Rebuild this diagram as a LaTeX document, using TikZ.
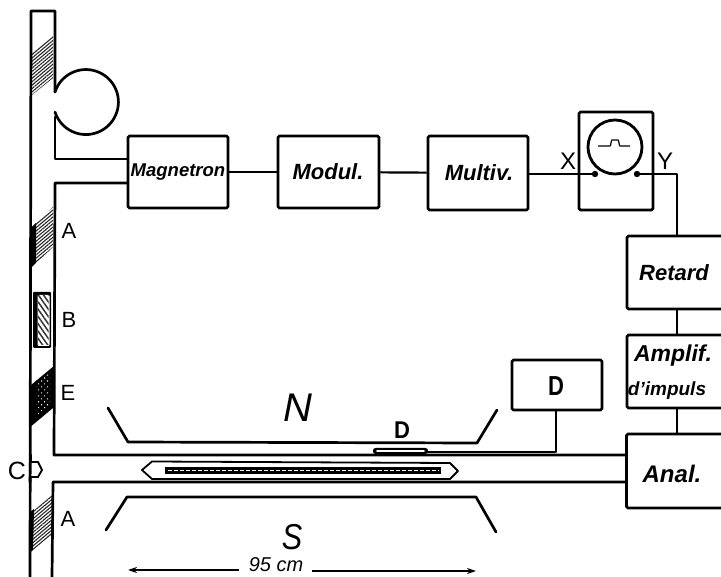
\documentclass[tikz,border=0pt]{standalone}
\usepackage{fontspec}
\setmainfont{Liberation Sans}
\usetikzlibrary{patterns.meta,arrows.meta}
\tikzset{
  blk/.style={draw=black,line width=2.6pt,rounded corners=1.5pt,inner sep=0pt,fill=white},
  wall/.style={draw=black,line width=2.7pt,line join=round,line cap=round},
  thin wire/.style={draw=black,line width=2.2pt},
  lettering/.style={font=\fontsize{#1}{#1}\selectfont\bfseries\itshape,inner sep=0pt},
  lightlettering/.style={font=\fontsize{#1}{#1}\selectfont\itshape,inner sep=0pt},
  plain/.style={font=\fontsize{#1}{#1}\selectfont,inner sep=0pt},
  hatch/.style={pattern={Lines[angle=40,distance=2.6pt,line width=1.1pt]},pattern color=black!85},
}
\begin{document}
\begin{tikzpicture}[x=1pt,y=-1pt]
\clip (0,0) rectangle (721,577);
\fill[white] (0,0) rectangle (721,577);
% boxes
\node[blk,minimum width=100pt,minimum height=72pt] (mag) at (178,172) {};
\node[blk,minimum width=101pt,minimum height=72pt] (mod) at (328.5,172) {};
\node[blk,minimum width=100pt,minimum height=74pt] (mul) at (478,173) {};
\node[blk,minimum width=74pt,minimum height=98pt] (osc) at (616,161) {};
\node[blk,minimum width=113pt,minimum height=73pt] (ret) at (683.5,272.5) {};
\node[blk,minimum width=113pt,minimum height=73pt] (amp) at (683.5,371.5) {};
\node[blk,minimum width=113pt,minimum height=74pt] (ana) at (683,471) {};
\node[blk,minimum width=90pt,minimum height=50pt] (det) at (557,385) {};
% box texts
\node[lettering=18.5] (tmag) at (178,172) {Magnetron};
\node[lettering=22] (tmod) at (328,172) {Modul.};
\node[lettering=22] (tmul) at (479,173) {Multiv.};
\node[lettering=22] (tret) at (674,273) {Retard};
\node[lettering=23] (tamp1) at (673,356) {Amplif.};
\node[lettering=19] (tamp2) at (667,391) {d'impuls};
\node[lettering=24] (tana) at (672,474) {Anal.};
\node[plain=22,font=\fontsize{22}{22}\selectfont\bfseries,yscale=1.25] (tdet) at (556,386) {D};
% oscilloscope
\node[draw=black,line width=2.8pt,circle,minimum size=54pt,inner sep=0pt] (scr) at (615,147) {};
\draw[line width=1.2pt] (598,146) -- (610,146) .. controls (611,146) and (611,140) .. (612,140) -- (618,140) .. controls (619,140) and (619,146) .. (620,146) -- (630,146);
\coordinate (dx) at (595,174);
\coordinate (dy) at (637,174);
\fill (dx) circle (3.2pt) (dy) circle (3.2pt);
% signal connectors
\coordinate (busx) at (677,0);
\coordinate (detx) at (556,0);
\draw[thin wire] (mag) -- (mod);
\draw[thin wire] (mod) -- (mul);
\draw[thin wire] (mul.east |- dx) -- (dx);
\draw[wall] (dy) -| (ret.north -| busx);
\draw[wall] (ret.south -| busx) -- (amp.north -| busx);
\draw[wall] (amp.south -| busx) -- (ana.north -| busx);
\coordinate (tube) at (427,452);
\draw[wall] (det.south -| detx) |- (tube);
\fill[rounded corners=2.5pt] (373,448) rectangle (428,454);
\fill[white,rounded corners=1pt] (376,450.2) rectangle (425,451.8);
% hatches in the vertical guide
\fill[hatch] (53,36) -- (32,53) -- (32,95) -- (53,78) -- cycle;
\fill[hatch] (53,207) -- (32,227) -- (32,267) -- (53,247) -- cycle;
\fill[hatch] (52,495) -- (30,512) -- (29,553) -- (52,535) -- cycle;
\fill (32,227) -- (36,223) -- (36,263) -- (32,267) -- cycle;
\fill (30,512) -- (34,509) -- (33,550) -- (29,553) -- cycle;
% E
\fill[black] (54,366) -- (31,385) -- (29,428) -- (53,408) -- cycle;
\fill[pattern={Dots[radius=.75pt,distance=4.2pt,angle=45]},pattern color=white] (50,372) -- (36,384) -- (36,416) -- (50,404) -- cycle;
% B
\fill[rounded corners=1pt] (33,292) rectangle (51,348);
\fill[white,rounded corners=1pt] (37.5,295) rectangle (49.5,346);
\fill[pattern={Lines[angle=-55,distance=4.2pt,line width=1.5pt]},pattern color=black!80] (38,296) rectangle (48.5,345);
% guide walls
\draw[wall] (30,577) -- (31,11) -- (55,11) -- (55,92);
\draw[wall] (55,92) arc[start angle=-162,end angle=162,radius=32.5];
\draw[wall] (55,117) -- (55,159) -- (mag.west |- 0,159);
\draw[wall] (mag.west |- 0,183) -- (55,183) -- (54,455) -- (ana.west |- 0,455);
\draw[wall] (ana.west |- 0,482) -- (53,482) -- (52,577);
% C iris
\draw[line width=1.8pt,fill=white] (30,462) -- (38,462) -- (42,470) -- (38,477) -- (30,477);
\draw[wall] (30.5,455) -- (30,482);
% pole pieces
\draw[wall] (108,408) -- (128,442) -- (477,443) -- (497,410);
\draw[wall] (106,530) -- (127,497) -- (476,497) -- (496,532);
% sample tube
\draw[line width=1.8pt,line join=round] (142,470) -- (152,461.5) -- (450,463) -- (458,471) -- (450,479) -- (152,479) -- cycle;
\draw[line width=6.5pt] (165,470.5) -- (441,470.5);
\draw[white,line width=1.4pt,dash pattern=on 3.5pt off 2.5pt] (168,470.5) -- (439,470.5);
% labels
\node[plain=22] (la1) at (69,231) {A};
\node[plain=22] (lb) at (69,320) {B};
\node[plain=22] (le) at (68,393) {E};
\node[plain=25] (lc) at (17,471) {C};
\node[plain=22] (la2) at (68,519) {A};
\node[plain=24] (lx) at (568,161) {X};
\node[plain=24] (ly) at (665,161) {Y};
\node[plain=22,font=\fontsize{22}{22}\selectfont\bfseries,yscale=1.1] (ld) at (402,430) {D};
\node[lightlettering=40] (ln) at (298,408) {N};
\node[lightlettering=36,xscale=.85] (ls) at (292,537) {S};
\node[lightlettering=20] (dim) at (276,565) {95 cm};
\coordinate (dl) at (128,570);
\coordinate (dr) at (476,571);
\draw[line width=1.2pt,-{Stealth[length=9pt,width=6pt]}] (dim.west |- dl) ++(-10,0) -- (dl);
\draw[line width=1.2pt,-{Stealth[length=9pt,width=6pt]}] (dim.east |- dr) ++(9,0) -- (dr);
\end{tikzpicture}
\end{document}
